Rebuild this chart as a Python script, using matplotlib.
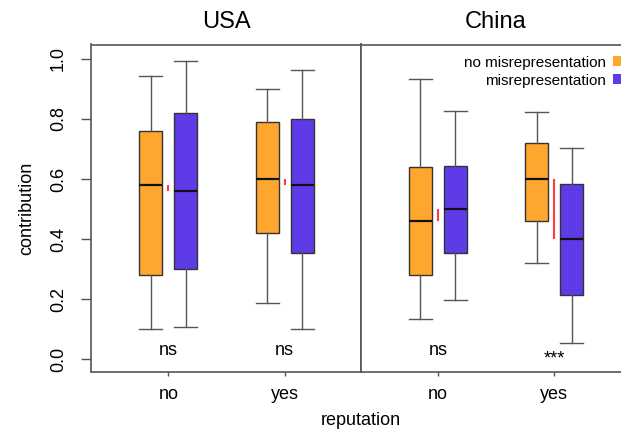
import matplotlib
matplotlib.use("Agg")
import matplotlib.pyplot as plt
from matplotlib.patches import Patch

plt.rcParams['font.family'] = ['Liberation Sans', 'DejaVu Sans']

# ---- data (five-number summaries: low whisker, Q1, median, Q3, high whisker)
reputation = ["no", "yes"]
countries = ["USA", "China"]
series_names = ["no misrepresentation", "misrepresentation"]

usa_no_nomis = [0.099, 0.279, 0.580, 0.761, 0.943]
usa_no_mis = [0.106, 0.299, 0.561, 0.821, 0.994]
usa_yes_nomis = [0.186, 0.420, 0.601, 0.791, 0.901]
usa_yes_mis = [0.099, 0.354, 0.580, 0.800, 0.963]
china_no_nomis = [0.134, 0.279, 0.459, 0.640, 0.933]
china_no_mis = [0.197, 0.354, 0.499, 0.644, 0.828]
china_yes_nomis = [0.319, 0.459, 0.600, 0.720, 0.823]
china_yes_mis = [0.054, 0.212, 0.399, 0.584, 0.704]

usa_signif = ["ns", "ns"]
china_signif = ["ns", "***"]

yticks = [0.0, 0.2, 0.4, 0.6, 0.8, 1.0]

col_nomis = "#FFA62F"
col_mis = "#5F3BE8"

panels = [
    ("USA", [(usa_no_nomis, usa_no_mis), (usa_yes_nomis, usa_yes_mis)], usa_signif),
    ("China", [(china_no_nomis, china_no_mis), (china_yes_nomis, china_yes_mis)], china_signif),
]

W, H = 621, 430
fig = plt.figure(figsize=(W / 100, H / 100), dpi=100)

ax_bottom = 1 - 372 / H
ax_h = (372 - 44.5) / H
ax_w = 270 / W
lefts = [91.5 / W, 361 / W]

frame_col = "#555555"

def stats(v, label):
    return dict(whislo=v[0], q1=v[1], med=v[2], q3=v[3], whishi=v[4], label=label, fliers=[])

for i, (title, groups, signif) in enumerate(panels):
    ax = fig.add_axes([lefts[i], ax_bottom, ax_w, ax_h])
    pos_centers = [1, 2]
    all_stats, positions, colors = [], [], []
    for g, (nomis, mis) in enumerate(groups):
        all_stats.append(stats(nomis, ""))
        positions.append(pos_centers[g] - 0.15)
        colors.append(col_nomis)
        all_stats.append(stats(mis, ""))
        positions.append(pos_centers[g] + 0.15)
        colors.append(col_mis)
    bp = ax.bxp(all_stats, positions=positions, widths=0.2, capwidths=0.2,
                patch_artist=True, showfliers=False, manage_ticks=False,
                boxprops=dict(edgecolor="#333333", linewidth=1.0),
                whiskerprops=dict(color="#555555", linewidth=1.0),
                capprops=dict(color="#555555", linewidth=1.0),
                medianprops=dict(color="#111111", linewidth=1.6))
    for patch, c in zip(bp['boxes'], colors):
        patch.set_facecolor(c)
    # red lines connecting medians
    for g, (nomis, mis) in enumerate(groups):
        ax.plot([pos_centers[g], pos_centers[g]], [nomis[2], mis[2]],
                color="#FF3B3B", linewidth=1.5, solid_capstyle="butt")
        if signif[g] == "***":
            ax.text(pos_centers[g], -0.015, signif[g], ha="center", va="baseline", fontsize=13)
        else:
            ax.text(pos_centers[g], 0.012, signif[g], ha="center", va="baseline", fontsize=13)

    ax.set_xlim(0.34, 2.66)
    ax.set_ylim(-0.043, 1.048)
    ax.set_xticks(pos_centers)
    ax.set_xticklabels(reputation, fontsize=13)
    ax.tick_params(axis="x", length=3.2, pad=6.6, color=frame_col, width=1.0)
    for sp in ax.spines.values():
        sp.set_color(frame_col)
        sp.set_linewidth(1.2)
    ax.set_title(title, fontsize=17, y=1.0498, pad=0, va="baseline")
    if i == 0:
        ax.set_yticks(yticks)
        ax.set_yticklabels([f"{t:.1f}" for t in yticks], fontsize=13,
                           rotation=90, va="center")
        ax.tick_params(axis="y", length=7.2, pad=10.5, color=frame_col, width=1.0)
        ax.set_ylabel("contribution", fontsize=13)
        ax.yaxis.set_label_coords(-0.207, 0.5)
    else:
        ax.set_yticks([])
        handles = [Patch(facecolor=col_nomis, edgecolor="none"),
                   Patch(facecolor=col_mis, edgecolor="none")]
        fig.legend(handles, series_names, loc="upper right",
                   bbox_to_anchor=(621.7 / W, 1 - 55.5 / H),
                   frameon=False, fontsize=11, markerfirst=False,
                   handlelength=0.6, handleheight=0.6, handletextpad=0.45,
                   labelspacing=0.27, borderpad=0, borderaxespad=0)

fig.text(361 / W, 1 - 425 / H, "reputation", ha="center", va="baseline", fontsize=13)

fig.savefig("out.png", dpi=100)
